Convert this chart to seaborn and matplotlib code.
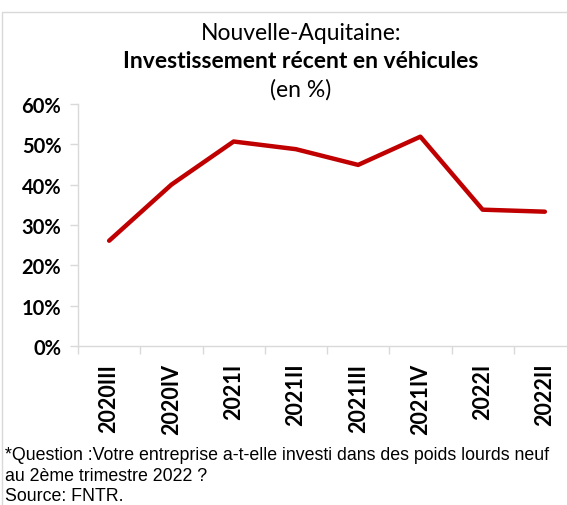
import matplotlib
matplotlib.use('Agg')
import matplotlib.pyplot as plt
from matplotlib.patches import Rectangle
from matplotlib.ticker import PercentFormatter
import seaborn as sns
import pandas as pd

quarters = ['2020III', '2020IV', '2021I', '2021II', '2021III', '2021IV', '2022I', '2022II']
share = [26.1, 40.0, 50.7, 48.8, 44.9, 51.9, 33.8, 33.3]

W, H = 567, 506

sns.set_theme(style='white')
plt.rcParams['font.family'] = ['Lato', 'DejaVu Sans']
plt.rcParams['text.color'] = 'black'
plt.rcParams['xtick.color'] = 'black'
plt.rcParams['ytick.color'] = 'black'

df = pd.DataFrame({'trimestre': quarters, 'part': share})

fig = plt.figure(figsize=(W / 100, H / 100), dpi=100)
ax = fig.add_axes([78 / W, 1 - 347 / H, (576 - 78) / W, (347 - 105) / H])

sns.lineplot(data=df, x='trimestre', y='part', sort=False, color='#C00000',
             linewidth=3.2, ax=ax)

ax.set_xlim(-0.5, len(quarters) - 0.5)
ax.set_ylim(0, 60)
ax.set_yticks(range(0, 61, 10))
ax.yaxis.set_major_formatter(PercentFormatter(decimals=0))
ax.set_xlabel('')
ax.set_ylabel('')

# Excel-style ticks between the categories
ax.set_xticks([i - 0.5 for i in range(len(quarters) + 1)], minor=True)
ax.set_xticks(range(len(quarters)))
ax.set_xticklabels(quarters, rotation=90, fontweight='bold', fontsize=15.5,
                   va='top', color='black')
ax.tick_params(axis='x', which='major', length=0, pad=12)
ax.tick_params(axis='x', which='minor', bottom=True, length=6, width=1, color='#D9D9D9')
ax.tick_params(axis='y', left=True, length=6, width=1, color='#D9D9D9',
               labelsize=14.5, labelcolor='black', pad=6)
for lab in ax.get_yticklabels():
    lab.set_fontweight('bold')

for side in ['top', 'right']:
    ax.spines[side].set_visible(False)
for side in ['left', 'bottom']:
    ax.spines[side].set_color('#D9D9D9')
    ax.spines[side].set_linewidth(1)

# chart border
fig.add_artist(Rectangle((2 / W, -0.1), 1.2, 1 - 13 / H + 0.1, transform=fig.transFigure,
                         fill=False, edgecolor='#D9D9D9', linewidth=1))

fig.text(301 / W, 1 - 33 / H, 'Nouvelle-Aquitaine:', ha='center', va='center', fontsize=16.5)
fig.text(301 / W, 1 - 61 / H, 'Investissement récent en véhicules', ha='center', va='center',
         fontsize=16.5, fontweight='bold')
fig.text(301 / W, 1 - 90 / H, '(en %)', ha='center', va='center', fontsize=16.5)

foot = dict(ha='left', va='center', fontsize=12.8, family=['Liberation Sans', 'DejaVu Sans'])
fig.text(5 / W, 1 - 456 / H, '*Question :Votre entreprise a-t-elle investi dans des poids lourds neuf', **foot)
fig.text(5 / W, 1 - 477 / H, 'au 2ème trimestre 2022 ?', **foot)
fig.text(5 / W, 1 - 497 / H, 'Source: FNTR.', **foot)

fig.savefig('out.png', dpi=100)
